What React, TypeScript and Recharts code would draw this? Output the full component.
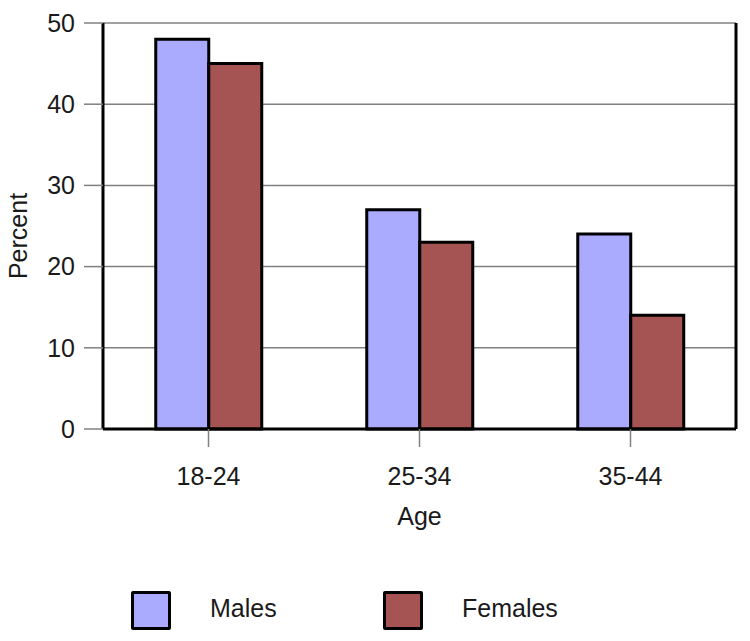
import {
  BarChart,
  Bar,
  XAxis,
  YAxis,
  CartesianGrid,
  Label,
} from "recharts";

const ageGroups = ["18-24", "25-34", "35-44"];
const malesPct = [48, 27, 24];
const femalesPct = [45, 23, 14];
const yTicks = [0, 10, 20, 30, 40, 50];

const data = ageGroups.map((age, i) => ({
  age,
  Males: malesPct[i],
  Females: femalesPct[i],
}));

const FONT = '"Liberation Sans", Arial, sans-serif';
const FS = 25;
const TEXT = "#1a1a1a";
const MALE = "#aaaaff";
const FEMALE = "#a65353";

function LegendItem({ x, color, label }: { x: number; color: string; label: string }) {
  return (
    <>
      <div
        style={{
          position: "absolute",
          left: x,
          top: 591,
          width: 34,
          height: 33,
          background: color,
          border: "3px solid #000",
          borderRadius: 2,
        }}
      />
      <div
        style={{
          position: "absolute",
          left: x + 79,
          top: 594,
          fontFamily: FONT,
          fontSize: FS,
          color: TEXT,
          lineHeight: "28px",
        }}
      >
        {label}
      </div>
    </>
  );
}

export default function App() {
  return (
    <div style={{ position: "absolute", left: 0, top: 0, width: 750, height: 641, background: "#fff" }}>
      <BarChart
        width={750}
        height={641}
        data={data}
        margin={{ top: 23, right: 13, left: 8, bottom: 112 }}
        barCategoryGap="25%"
        barGap={0}
      >
        <CartesianGrid vertical={false} stroke="#808080" strokeWidth={1.5} />
        <XAxis
          dataKey="age"
          height={100}
          tickSize={18}
          tickMargin={20}
          tickLine={{ stroke: "#808080", strokeWidth: 1.5 }}
          axisLine={{ stroke: "#000", strokeWidth: 3 }}
          tick={{ fill: TEXT, fontSize: FS, fontFamily: FONT }}
        >
          <Label
            value="Age"
            position="insideBottom"
            offset={4}
            style={{ fill: TEXT, fontSize: FS, fontFamily: FONT }}
          />
        </XAxis>
        <YAxis
          width={95}
          domain={[0, 50]}
          ticks={yTicks}
          tickSize={19}
          tickMargin={9}
          tickLine={{ stroke: "#808080", strokeWidth: 1.5 }}
          axisLine={{ stroke: "#000", strokeWidth: 3 }}
          tick={{ fill: TEXT, fontSize: FS, fontFamily: FONT }}
        >
          <Label
            value="Percent"
            angle={-90}
            position="insideLeft"
            offset={10}
            dy={10}
            style={{ fill: TEXT, fontSize: FS, fontFamily: FONT, textAnchor: "middle" }}
          />
        </YAxis>
        <YAxis
          yAxisId="r"
          orientation="right"
          width={1}
          domain={[0, 50]}
          tick={false}
          tickLine={false}
          axisLine={{ stroke: "#000", strokeWidth: 3 }}
        />
        <Bar dataKey="Males" fill={MALE} stroke="#000" strokeWidth={3} isAnimationActive={false} />
        <Bar dataKey="Females" fill={FEMALE} stroke="#000" strokeWidth={3} isAnimationActive={false} />
      </BarChart>
      <LegendItem x={131} color={MALE} label="Males" />
      <LegendItem x={383} color={FEMALE} label="Females" />
    </div>
  );
}
